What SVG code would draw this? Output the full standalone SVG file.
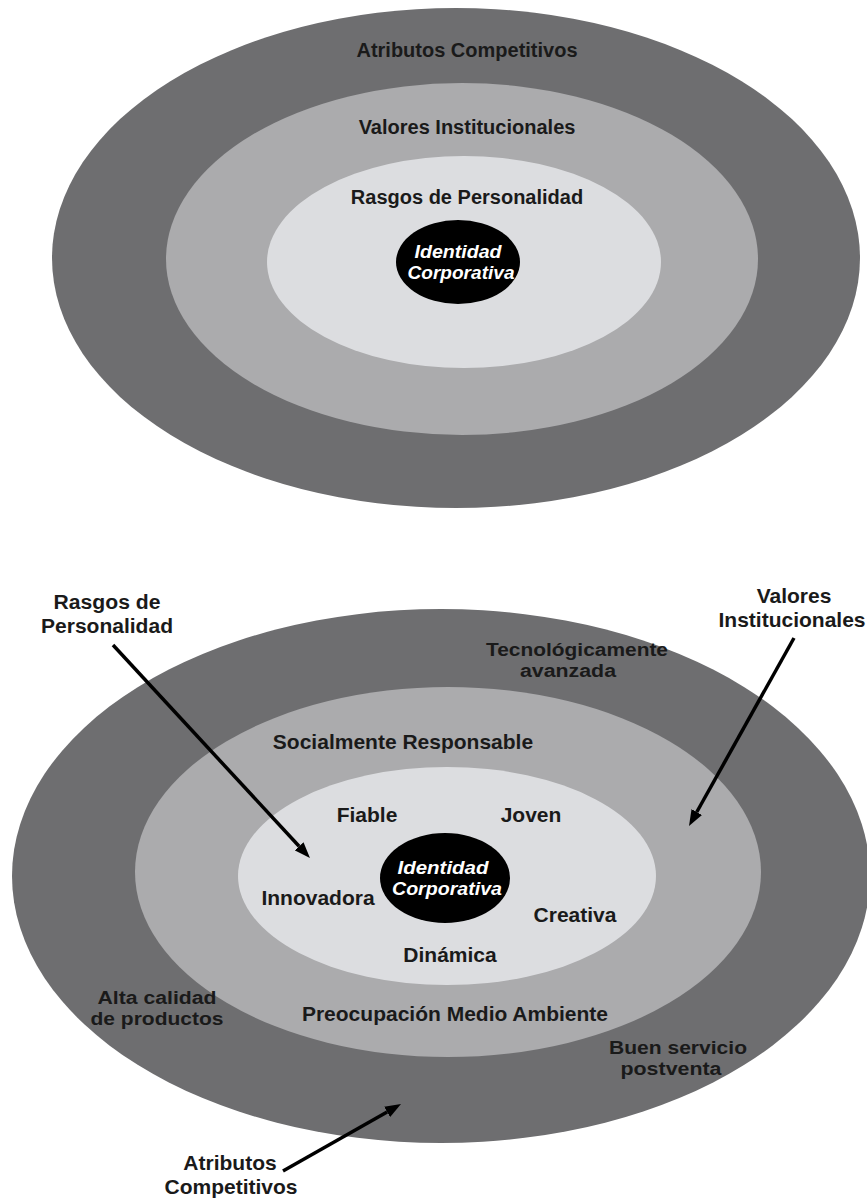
<svg xmlns="http://www.w3.org/2000/svg" width="867" height="1204" viewBox="0 0 867 1204">
  <style>
    .outer { fill: #6e6e70; }
    .middle { fill: #ababad; }
    .inner { fill: #dcdde0; }
    .core { fill: #000000; }
    .lbl { font-family: "Liberation Sans", Arial, sans-serif; font-weight: bold; fill: #1a1a1a; text-anchor: middle; }
    .t18 { font-size: 18px; }
    .t20 { font-size: 20px; }
    .t21 { font-size: 21px; }
    .core-lbl { font-family: "Liberation Sans", Arial, sans-serif; font-weight: bold; font-style: italic; fill: #ffffff; text-anchor: middle; font-size: 18px; }
    .arrow { stroke: #000000; stroke-width: 3.5; fill: none; marker-end: url(#head); }
  </style>
  <defs>
    <marker id="head" markerUnits="userSpaceOnUse" markerWidth="16" markerHeight="12" viewBox="0 0 16 12" refX="0" refY="6" orient="auto">
      <path d="M0,0 L16,6 L0,12 z" fill="#000000"/>
    </marker>
  </defs>

  <rect x="0" y="0" width="867" height="1204" fill="#ffffff"/>

  <!-- Top diagram -->
  <g id="top-atributos">
    <ellipse class="outer" cx="456" cy="258" rx="404" ry="250"/>
    <text class="lbl t20" x="467" y="57">Atributos Competitivos</text>
  </g>
  <g id="top-valores">
    <ellipse class="middle" cx="462" cy="259" rx="296" ry="176"/>
    <text class="lbl t20" x="467" y="134">Valores Institucionales</text>
  </g>
  <g id="top-rasgos">
    <ellipse class="inner" cx="464" cy="262" rx="197" ry="106"/>
    <text class="lbl t20" x="467" y="204">Rasgos de Personalidad</text>
  </g>
  <g id="top-identidad">
    <ellipse class="core" cx="458" cy="262" rx="62" ry="42"/>
    <text class="core-lbl" x="458" y="258" textLength="87" lengthAdjust="spacingAndGlyphs">Identidad</text>
    <text class="core-lbl" x="461" y="279" textLength="107" lengthAdjust="spacingAndGlyphs">Corporativa</text>
  </g>

  <!-- Bottom diagram -->
  <g id="bottom-atributos-ring">
    <ellipse class="outer" cx="441" cy="876" rx="429" ry="267"/>
  </g>
  <g id="bottom-valores-ring">
    <ellipse class="middle" cx="448" cy="872" rx="313" ry="185"/>
  </g>
  <g id="bottom-rasgos-ring">
    <ellipse class="inner" cx="447" cy="876" rx="209" ry="109"/>
  </g>
  <g id="bottom-identidad">
    <ellipse class="core" cx="445" cy="878" rx="65" ry="45"/>
    <text class="core-lbl" x="443" y="874" textLength="91" lengthAdjust="spacingAndGlyphs">Identidad</text>
    <text class="core-lbl" x="447" y="895" textLength="110" lengthAdjust="spacingAndGlyphs">Corporativa</text>
  </g>

  <g id="label-tecnologicamente">
    <text class="lbl t18" x="577" y="656" textLength="182" lengthAdjust="spacingAndGlyphs">Tecnológicamente</text>
    <text class="lbl t18" x="568" y="677" textLength="96" lengthAdjust="spacingAndGlyphs">avanzada</text>
  </g>
  <g id="label-socialmente">
    <text class="lbl t21" x="403" y="749">Socialmente Responsable</text>
  </g>
  <g id="label-fiable">
    <text class="lbl t21" x="367" y="822">Fiable</text>
  </g>
  <g id="label-joven">
    <text class="lbl t21" x="531" y="822">Joven</text>
  </g>
  <g id="label-innovadora">
    <text class="lbl t21" x="318" y="905">Innovadora</text>
  </g>
  <g id="label-creativa">
    <text class="lbl t21" x="575" y="922">Creativa</text>
  </g>
  <g id="label-dinamica">
    <text class="lbl t21" x="450" y="962">Dinámica</text>
  </g>
  <g id="label-alta-calidad">
    <text class="lbl t18" x="157" y="1004" textLength="119" lengthAdjust="spacingAndGlyphs">Alta calidad</text>
    <text class="lbl t18" x="157" y="1025" textLength="133" lengthAdjust="spacingAndGlyphs">de productos</text>
  </g>
  <g id="label-preocupacion">
    <text class="lbl t21" x="455" y="1021">Preocupación Medio Ambiente</text>
  </g>
  <g id="label-buen-servicio">
    <text class="lbl t18" x="678" y="1054" textLength="138" lengthAdjust="spacingAndGlyphs">Buen servicio</text>
    <text class="lbl t18" x="671" y="1075" textLength="101" lengthAdjust="spacingAndGlyphs">postventa</text>
  </g>

  <g id="callout-rasgos">
    <text class="lbl t20" x="107" y="609" textLength="107" lengthAdjust="spacingAndGlyphs">Rasgos de</text>
    <text class="lbl t20" x="107" y="633" textLength="132" lengthAdjust="spacingAndGlyphs">Personalidad</text>
  </g>
  <g id="callout-valores">
    <text class="lbl t21" x="794" y="603">Valores</text>
    <text class="lbl t21" x="792" y="627">Institucionales</text>
  </g>
  <g id="callout-atributos">
    <text class="lbl t21" x="230" y="1170">Atributos</text>
    <text class="lbl t21" x="231" y="1194">Competitivos</text>
  </g>

  <g id="connectors">
    <line class="arrow" x1="113" y1="645" x2="299.1" y2="846.3"/>
    <line class="arrow" x1="794" y1="638" x2="696.8" y2="812.0"/>
    <line class="arrow" x1="283" y1="1171" x2="387.1" y2="1111.9"/>
  </g>
</svg>
